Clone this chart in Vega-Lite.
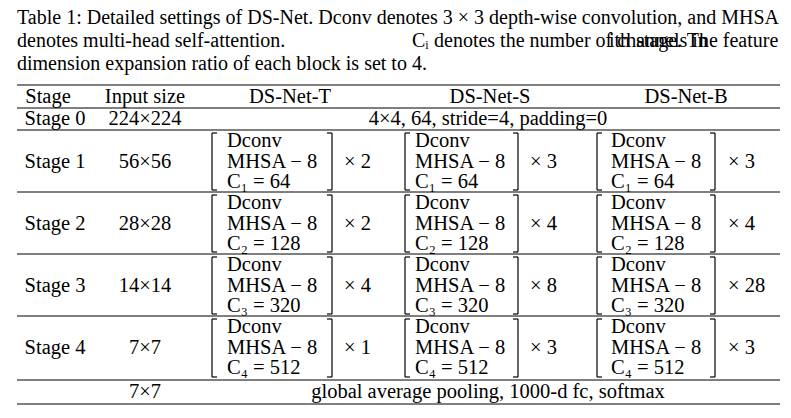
{
  "$schema": "https://vega.github.io/schema/vega-lite/v6.json",
  "width": 791,
  "height": 418,
  "autosize": {"type": "fit", "contains": "padding"},
  "padding": 0,
  "background": "white",
  "config": {"view": {"stroke": null}, "text": {"font": "Liberation Serif", "fontSize": 20.5, "color": "black", "baseline": "middle"}},
  "datasets": {
    "rules": [
      {"y": 85}, {"y": 108}, {"y": 130}, {"y": 192}, {"y": 254}, {"y": 316}, {"y": 380}, {"y": 404}
    ],
    "brackets": [
      {"xl": 212, "xr": 332, "y1": 133, "y2": 190}, {"xl": 405, "xr": 518, "y1": 133, "y2": 190}, {"xl": 597, "xr": 715, "y1": 133, "y2": 190},
      {"xl": 212, "xr": 332, "y1": 195, "y2": 252}, {"xl": 405, "xr": 518, "y1": 195, "y2": 252}, {"xl": 597, "xr": 715, "y1": 195, "y2": 252},
      {"xl": 212, "xr": 332, "y1": 257, "y2": 314}, {"xl": 405, "xr": 518, "y1": 257, "y2": 314}, {"xl": 597, "xr": 715, "y1": 257, "y2": 314},
      {"xl": 212, "xr": 332, "y1": 319, "y2": 377}, {"xl": 405, "xr": 518, "y1": 319, "y2": 377}, {"xl": 597, "xr": 715, "y1": 319, "y2": 377}
    ],
    "caption": [
      {"x": 17, "y": 18, "t": "Table 1: Detailed settings of DS-Net. Dconv denotes 3 × 3 depth-wise convolution, and MHSA", "it": false},
      {"x": 17, "y": 41, "t": "denotes multi-head self-attention.", "it": false},
      {"x": 412, "y": 41, "t": "Cᵢ", "it": true},
      {"x": 434, "y": 41, "t": "denotes the number of channels in", "it": false},
      {"x": 609, "y": 41, "t": "ith", "it": true},
      {"x": 636, "y": 41, "t": "stage. The feature", "it": false},
      {"x": 17, "y": 64, "t": "dimension expansion ratio of each block is set to 4.", "it": false}
    ],
    "centered": [
      {"x": 48, "y": 97, "t": "Stage"}, {"x": 145, "y": 97, "t": "Input size"},
      {"x": 290, "y": 97, "t": "DS-Net-T"}, {"x": 490, "y": 97, "t": "DS-Net-S"}, {"x": 686, "y": 97, "t": "DS-Net-B"},
      {"x": 55, "y": 119, "t": "Stage 0"}, {"x": 145, "y": 119, "t": "224×224"}, {"x": 488, "y": 119, "t": "4×4, 64, stride=4, padding=0"},
      {"x": 55, "y": 162, "t": "Stage 1"}, {"x": 145, "y": 162, "t": "56×56"},
      {"x": 55, "y": 224, "t": "Stage 2"}, {"x": 145, "y": 224, "t": "28×28"},
      {"x": 55, "y": 286, "t": "Stage 3"}, {"x": 145, "y": 286, "t": "14×14"},
      {"x": 55, "y": 348, "t": "Stage 4"}, {"x": 145, "y": 348, "t": "7×7"},
      {"x": 145, "y": 392, "t": "7×7"}, {"x": 488, "y": 392, "t": "global average pooling, 1000-d fc, softmax"}
    ],
    "cells": [
      {"x": 227, "y": 141, "t": "Dconv"}, {"x": 227, "y": 162, "t": "MHSA − 8"}, {"x": 227, "y": 182, "t": "C₁ = 64"}, {"x": 344, "y": 162, "t": "× 2"},
      {"x": 415, "y": 141, "t": "Dconv"}, {"x": 415, "y": 162, "t": "MHSA − 8"}, {"x": 415, "y": 182, "t": "C₁ = 64"}, {"x": 530, "y": 162, "t": "× 3"},
      {"x": 611, "y": 141, "t": "Dconv"}, {"x": 611, "y": 162, "t": "MHSA − 8"}, {"x": 611, "y": 182, "t": "C₁ = 64"}, {"x": 728, "y": 162, "t": "× 3"},
      {"x": 227, "y": 203, "t": "Dconv"}, {"x": 227, "y": 224, "t": "MHSA − 8"}, {"x": 227, "y": 244, "t": "C₂ = 128"}, {"x": 344, "y": 224, "t": "× 2"},
      {"x": 415, "y": 203, "t": "Dconv"}, {"x": 415, "y": 224, "t": "MHSA − 8"}, {"x": 415, "y": 244, "t": "C₂ = 128"}, {"x": 530, "y": 224, "t": "× 4"},
      {"x": 611, "y": 203, "t": "Dconv"}, {"x": 611, "y": 224, "t": "MHSA − 8"}, {"x": 611, "y": 244, "t": "C₂ = 128"}, {"x": 728, "y": 224, "t": "× 4"},
      {"x": 227, "y": 265, "t": "Dconv"}, {"x": 227, "y": 286, "t": "MHSA − 8"}, {"x": 227, "y": 306, "t": "C₃ = 320"}, {"x": 344, "y": 286, "t": "× 4"},
      {"x": 415, "y": 265, "t": "Dconv"}, {"x": 415, "y": 286, "t": "MHSA − 8"}, {"x": 415, "y": 306, "t": "C₃ = 320"}, {"x": 530, "y": 286, "t": "× 8"},
      {"x": 611, "y": 265, "t": "Dconv"}, {"x": 611, "y": 286, "t": "MHSA − 8"}, {"x": 611, "y": 306, "t": "C₃ = 320"}, {"x": 728, "y": 286, "t": "× 28"},
      {"x": 227, "y": 327, "t": "Dconv"}, {"x": 227, "y": 348, "t": "MHSA − 8"}, {"x": 227, "y": 368, "t": "C₄ = 512"}, {"x": 344, "y": 348, "t": "× 1"},
      {"x": 415, "y": 327, "t": "Dconv"}, {"x": 415, "y": 348, "t": "MHSA − 8"}, {"x": 415, "y": 368, "t": "C₄ = 512"}, {"x": 530, "y": 348, "t": "× 3"},
      {"x": 611, "y": 327, "t": "Dconv"}, {"x": 611, "y": 348, "t": "MHSA − 8"}, {"x": 611, "y": 368, "t": "C₄ = 512"}, {"x": 728, "y": 348, "t": "× 3"}
    ]
  },
  "layer": [
    {
      "data": {"name": "rules"},
      "transform": [{"calculate": "17", "as": "x1"}, {"calculate": "780", "as": "x2"}],
      "mark": {"type": "rule", "color": "black", "strokeWidth": 1},
      "encoding": {
        "x": {"field": "x1", "type": "quantitative", "scale": {"domain": [0, 791], "nice": false, "zero": false}, "axis": null},
        "x2": {"field": "x2"},
        "y": {"field": "y", "type": "quantitative", "scale": {"domain": [0, 418], "reverse": true, "nice": false, "zero": false}, "axis": null}
      }
    },
    {
      "data": {"name": "brackets"},
      "transform": [
        {"calculate": "datum.xl + 5", "as": "xlt"},
        {"calculate": "datum.xr - 5", "as": "xrt"}
      ],
      "layer": [
        {"mark": {"type": "rule", "color": "black", "strokeWidth": 1.2}, "encoding": {"x": {"field": "xl", "type": "quantitative"}, "y": {"field": "y1", "type": "quantitative"}, "y2": {"field": "y2"}}},
        {"mark": {"type": "rule", "color": "black", "strokeWidth": 1.2}, "encoding": {"x": {"field": "xr", "type": "quantitative"}, "y": {"field": "y1", "type": "quantitative"}, "y2": {"field": "y2"}}},
        {"mark": {"type": "rule", "color": "black", "strokeWidth": 1.2}, "encoding": {"x": {"field": "xl", "type": "quantitative"}, "x2": {"field": "xlt"}, "y": {"field": "y1", "type": "quantitative"}}},
        {"mark": {"type": "rule", "color": "black", "strokeWidth": 1.2}, "encoding": {"x": {"field": "xl", "type": "quantitative"}, "x2": {"field": "xlt"}, "y": {"field": "y2", "type": "quantitative"}}},
        {"mark": {"type": "rule", "color": "black", "strokeWidth": 1.2}, "encoding": {"x": {"field": "xrt", "type": "quantitative"}, "x2": {"field": "xr"}, "y": {"field": "y1", "type": "quantitative"}}},
        {"mark": {"type": "rule", "color": "black", "strokeWidth": 1.2}, "encoding": {"x": {"field": "xrt", "type": "quantitative"}, "x2": {"field": "xr"}, "y": {"field": "y2", "type": "quantitative"}}}
      ]
    },
    {
      "data": {"name": "caption"},
      "mark": {"type": "text", "align": "left", "font": "Liberation Serif", "fontSize": 20},
      "encoding": {
        "x": {"field": "x", "type": "quantitative"},
        "y": {"field": "y", "type": "quantitative"},
        "text": {"field": "t"},
        "fontStyle": {"condition": {"test": "datum.it", "value": "italic"}, "value": "normal"}
      }
    },
    {
      "data": {"name": "centered"},
      "mark": {"type": "text", "align": "center", "font": "Liberation Serif"},
      "encoding": {
        "x": {"field": "x", "type": "quantitative"},
        "y": {"field": "y", "type": "quantitative"},
        "text": {"field": "t"}
      }
    },
    {
      "data": {"name": "cells"},
      "mark": {"type": "text", "align": "left", "font": "Liberation Serif"},
      "encoding": {
        "x": {"field": "x", "type": "quantitative"},
        "y": {"field": "y", "type": "quantitative"},
        "text": {"field": "t"}
      }
    }
  ]
}
